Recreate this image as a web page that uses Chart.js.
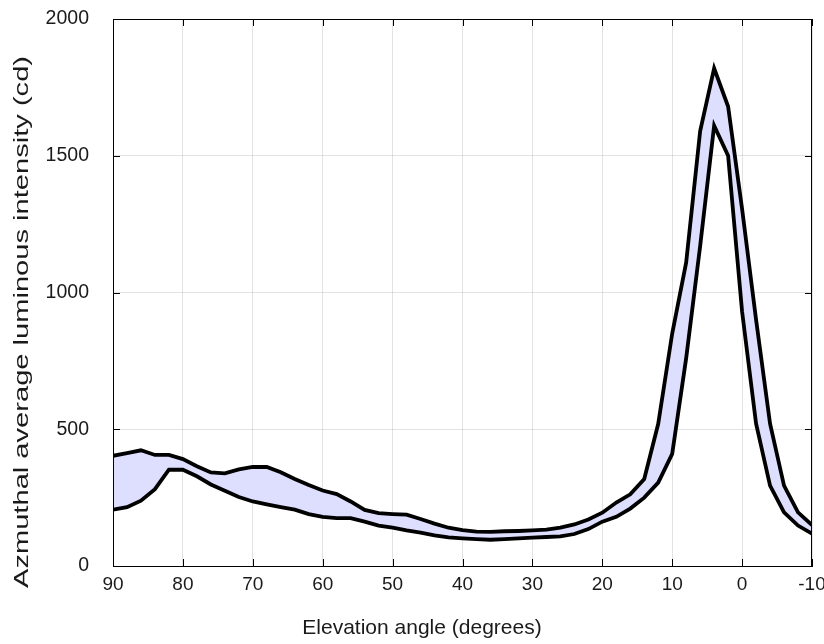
<!DOCTYPE html>
<html>
<head>
<meta charset="utf-8">
<script src="https://cdn.jsdelivr.net/npm/chart.js@4.4.1/dist/chart.umd.min.js"></script>
<style>
  html, body { margin: 0; padding: 0; background: #ffffff; }
  #wrap { width: 824px; height: 644px; position: relative; }
</style>
</head>
<body>
<div id="wrap"><canvas id="c" width="824" height="644"></canvas></div>
<script>
// Elevation angle (degrees)
const angles = [90, 88, 86, 84, 82, 80, 78, 76, 74, 72, 70, 68, 66, 64, 62, 60, 58, 56, 54, 52,
                50, 48, 46, 44, 42, 40, 38, 36, 34, 32, 30, 28, 26, 24, 22, 20, 18, 16, 14, 12,
                10, 8, 6, 4, 2, 0, -2, -4, -6, -8, -10];
// Upper bound of azimuthal average luminous intensity (cd)
const upperValues = [403, 413, 423, 406, 406, 391, 365, 342, 339, 353, 362, 362, 343, 318, 296, 276, 263, 236, 205, 193,
                     190, 188, 172, 155, 140, 131, 126, 125, 127, 128, 130, 133, 140, 152, 170, 195, 232, 262, 318, 520,
                     850, 1110, 1590, 1820, 1680, 1305, 900, 520, 294, 196, 150];
// Lower bound of azimuthal average luminous intensity (cd)
const lowerValues = [206, 215, 239, 281, 352, 352, 328, 298, 275, 252, 236, 225, 215, 206, 190, 180, 175, 175, 162, 148,
                     140, 130, 122, 112, 105, 101, 98, 96, 98, 101, 104, 106, 108, 117, 135, 162, 180, 210, 250, 305,
                     410, 760, 1170, 1610, 1500, 930, 520, 294, 196, 148, 118];
const xTicks = [90, 80, 70, 60, 50, 40, 30, 20, 10, 0, -10];
const yTicks = [0, 500, 1000, 1500, 2000];
const xTitle = 'Elevation angle (degrees)';
const yTitle = 'Azmuthal average luminous intensity (cd)';

const FONT = '"Liberation Sans", Arial, Helvetica, sans-serif';
const TEXT_COLOR = '#1a1a1a';

const upperPts = angles.map((a, i) => ({ x: a, y: upperValues[i] }));
const lowerPts = angles.map((a, i) => ({ x: a, y: lowerValues[i] }));

const boxPlugin = {
  id: 'boxPlugin',
  afterDatasetsDraw(chart) {
    const ctx = chart.ctx;
    const a = chart.chartArea;
    const xs = chart.scales.x, ys = chart.scales.y;
    const L = 7;
    ctx.save();
    ctx.strokeStyle = '#000';
    ctx.lineWidth = 1;
    ctx.beginPath();
    ctx.rect(a.left + 0.5, a.top + 0.5, a.right - a.left - 1, a.bottom - a.top);
    ctx.stroke();
    ctx.beginPath();
    xTicks.forEach(v => {
      const px = Math.round(xs.getPixelForValue(v)) + 0.5;
      ctx.moveTo(px, a.bottom); ctx.lineTo(px, a.bottom - L);
      ctx.moveTo(px, a.top); ctx.lineTo(px, a.top + L);
    });
    yTicks.forEach(v => {
      const py = Math.round(ys.getPixelForValue(v)) + 0.5;
      ctx.moveTo(a.left, py); ctx.lineTo(a.left + L, py);
      ctx.moveTo(a.right, py); ctx.lineTo(a.right - L, py);
    });
    ctx.stroke();
    ctx.restore();
  },
  afterDraw(chart) {
    const ctx = chart.ctx;
    ctx.save();
    ctx.fillStyle = TEXT_COLOR;
    ctx.textAlign = 'center';
    ctx.textBaseline = 'middle';
    // x axis title (centred on the figure)
    ctx.font = '21px ' + FONT;
    ctx.fillText(xTitle, 422, 628);
    // y axis title (centred on the figure)
    ctx.font = '21px ' + FONT;
    const w = ctx.measureText(yTitle).width;
    const target = 532;
    ctx.translate(22, 322);
    ctx.rotate(-Math.PI / 2);
    ctx.scale(target / w, 1);
    ctx.fillText(yTitle, 0, 0);
    ctx.restore();
  }
};

function noPad(scale) {
  scale.paddingTop = 0;
  scale.paddingBottom = 0;
  scale.paddingLeft = 0;
  scale.paddingRight = 0;
}

new Chart(document.getElementById('c'), {
  type: 'line',
  data: {
    datasets: [
      {
        label: 'Upper',
        data: upperPts,
        borderColor: '#000000',
        borderWidth: 3.8,
        backgroundColor: '#dedeff',
        fill: '+1',
        pointRadius: 0,
        tension: 0,
        borderJoinStyle: 'miter'
      },
      {
        label: 'Lower',
        data: lowerPts,
        borderColor: '#000000',
        borderWidth: 3.8,
        fill: false,
        pointRadius: 0,
        tension: 0,
        borderJoinStyle: 'miter'
      }
    ]
  },
  options: {
    responsive: false,
    animation: false,
    devicePixelRatio: 1,
    layout: { padding: { top: 19, right: 12, left: 0, bottom: 0 } },
    plugins: {
      legend: { display: false },
      tooltip: { enabled: false },
      filler: { propagate: false, drawTime: 'beforeDatasetsDraw' }
    },
    scales: {
      x: {
        type: 'linear',
        reverse: true,
        min: -10,
        max: 90,
        afterBuildTicks(scale) { scale.ticks = xTicks.map(v => ({ value: v })); },
        afterFit(scale) { scale.height = 78; noPad(scale); },
        ticks: {
          color: TEXT_COLOR,
          font: { family: FONT, size: 19 },
          padding: 7,
          maxRotation: 0,
          autoSkip: false,
          callback: v => String(v)
        },
        grid: { color: 'rgba(0,0,0,0.11)', drawTicks: false },
        border: { display: true, color: '#000' },
        title: { display: false }
      },
      y: {
        type: 'linear',
        min: 0,
        max: 2000,
        afterBuildTicks(scale) { scale.ticks = yTicks.map(v => ({ value: v })); },
        afterFit(scale) { scale.width = 113; noPad(scale); },
        ticks: {
          color: TEXT_COLOR,
          font: { family: FONT, size: 19.5 },
          padding: 24,
          callback: v => String(v)
        },
        grid: { color: 'rgba(0,0,0,0.11)', drawTicks: false },
        border: { display: true, color: '#000' },
        title: { display: false }
      }
    }
  },
  plugins: [boxPlugin]
});
</script>
</body>
</html>
